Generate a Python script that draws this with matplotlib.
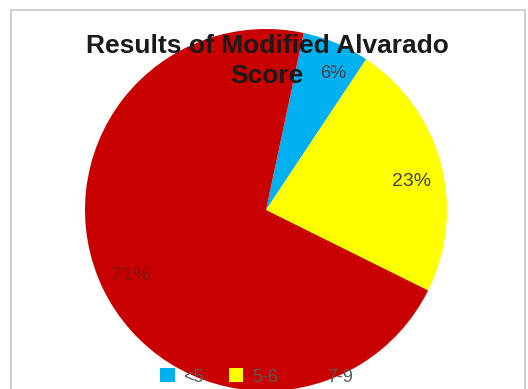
import matplotlib.pyplot as plt
from matplotlib.patches import Rectangle

# Modified Alvarado score groups
categories = ['<5', '5-6', '7-9']
shares = [6, 23, 71]
colors = ['#00B0F0', '#FFFF00', '#C80000']
title_lines = ['Results of Modified Alvarado', 'Score']

fig = plt.figure(figsize=(5.28, 3.89), dpi=100)
plt.rcParams['font.family'] = ['Liberation Sans', 'DejaVu Sans']

# chart area border
fig.patches.append(Rectangle((11 / 528, -0.05), 514 / 528, 1 - 10 / 389 + 0.05,
                             transform=fig.transFigure, fill=False,
                             edgecolor='#c8c8c8', linewidth=1.2, zorder=0))

ax = fig.add_axes([85 / 528, -2 / 389, 362 / 528, 362 / 389])
wedges, texts, autotexts = ax.pie(
    shares, colors=colors, startangle=78, counterclock=False,
    autopct='%d%%', pctdistance=0.83,
    textprops={'fontsize': 14, 'color': '#404040'})
autotexts[0].set_fontsize(13)
autotexts[2].set_color('#8a1010')
# small nudges so the labels clear the title
x, y = autotexts[0].get_position()
autotexts[0].set_position((x + 0.05, y - 0.01))
x, y = autotexts[1].get_position()
autotexts[1].set_position((x, y - 0.06))
ax.set_xlim(-1, 1)
ax.set_ylim(-1, 1)
ax.set_aspect('equal')

# title drawn line by line, centred over the pie
for i, line in enumerate(title_lines):
    fig.text(0.506, 1 - (46 + 30 * i) / 389, line, ha='center', va='center',
             fontsize=19, fontweight='bold', color='#1a1a1a')

fig.legend(wedges, categories, loc='center', bbox_to_anchor=(0.486, 1 - 377 / 389),
           ncol=3, frameon=False, fontsize=13, handlelength=0.78, handleheight=0.78,
           handletextpad=0.5, columnspacing=1.4, labelcolor='#595959')

fig.savefig('out.png', dpi=100)
